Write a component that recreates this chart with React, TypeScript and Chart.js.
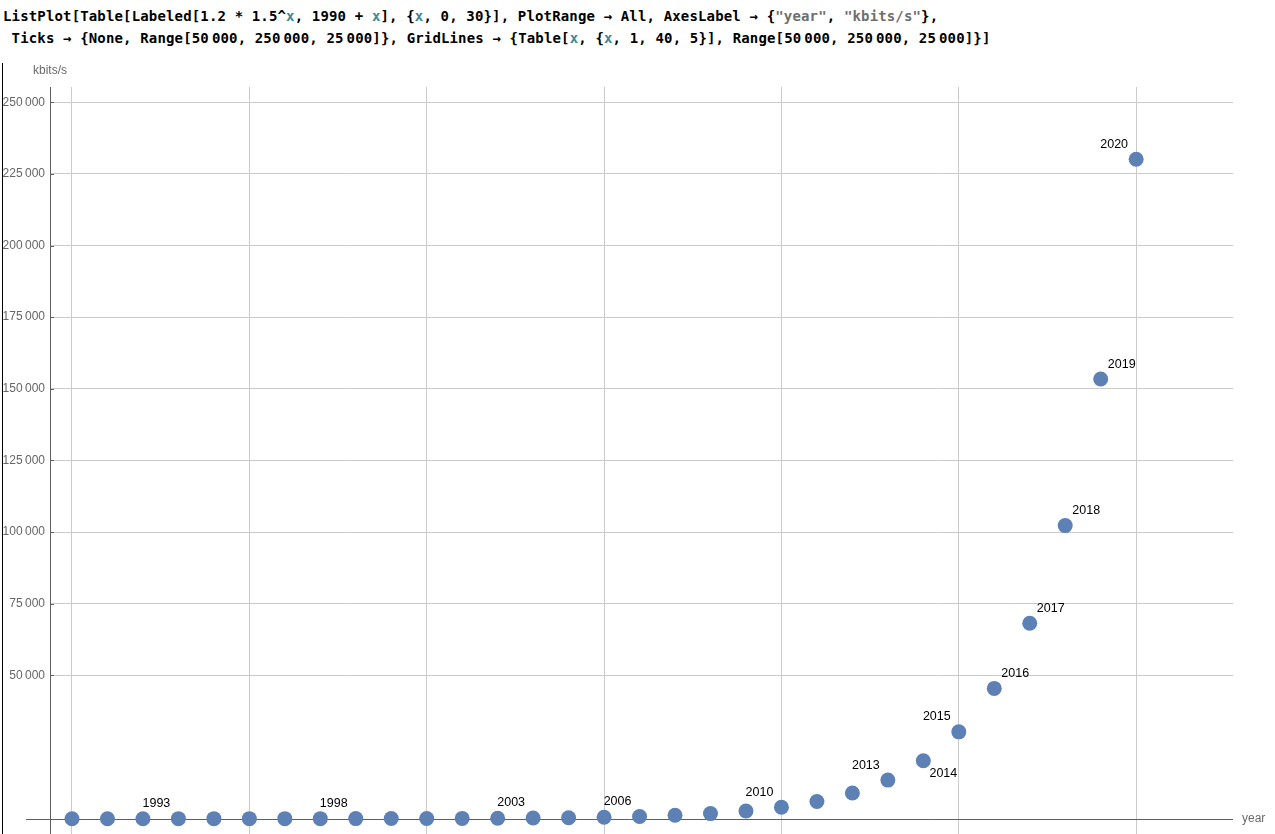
import React, { useEffect, useRef } from "react";
import { Chart, registerables } from "chart.js";

Chart.register(...registerables);

const years: number[] = [
  1990, 1991, 1992, 1993, 1994, 1995, 1996, 1997, 1998, 1999, 2000,
  2001, 2002, 2003, 2004, 2005, 2006, 2007, 2008, 2009, 2010,
  2011, 2012, 2013, 2014, 2015, 2016, 2017, 2018, 2019, 2020,
];
const kbits: number[] = [
  1.2, 1.8, 2.7, 4.05, 6.08, 9.11, 13.67, 20.5, 30.8, 46.1, 69.2,
  103.8, 155.7, 233.5, 350.3, 525.5, 788.2, 1182.3, 1773.5, 2660.2, 3990.3,
  5985.5, 8978.2, 13467, 20201, 30301, 45452, 68178, 102267, 153401, 230101,
];
const yTicks: number[] = [50000, 75000, 100000, 125000, 150000, 175000, 200000, 225000, 250000];
const xGrid: number[] = [1, 6, 11, 16, 21, 26, 31, 36];
// which points carry a year label and where it sits
const labelPlacement: Record<number, string> = {
  1993: "ul", 1998: "ul", 2003: "ul", 2006: "ul", 2010: "ul", 2013: "ul",
  2014: "lr", 2015: "ul", 2016: "ur", 2017: "ur", 2018: "ur", 2019: "ur", 2020: "ul",
};

const AXIS = "#5f5f5f";
const GRID = "#cbcbcb";
const DOT = "#5e81b5";
const FONT = "'Liberation Sans', Arial, sans-serif";

const fmt = (v: number) => {
  const s = String(Math.round(v));
  return s.slice(0, s.length - 3) + "\u2009" + s.slice(s.length - 3);
};

const X = ({ c }: { c: string }) => <span style={{ color: "#3e8796" }}>{c}</span>;
const S = ({ c }: { c: string }) => <span style={{ color: "#6e6e6e" }}>{c}</span>;
const T = () => <span style={{ display: "inline-block", width: 3 }}>{"\u2009"}</span>;

export default function App() {
  const ref = useRef<HTMLCanvasElement | null>(null);

  useEffect(() => {
    const canvas = ref.current;
    if (!canvas) return;

    const overlay = {
      id: "overlay",
      beforeDatasetsDraw(chart: any) {
        const ctx = chart.ctx;
        const ys = chart.scales.y;
        const area = chart.chartArea;
        const y0 = Math.round(ys.getPixelForValue(0)) + 0.5;
        ctx.save();
        ctx.strokeStyle = AXIS;
        ctx.lineWidth = 1;
        ctx.beginPath();
        ctx.moveTo(26, y0);
        ctx.lineTo(area.right, y0);
        ctx.stroke();
        // inward tick marks
        for (const v of yTicks) {
          const py = Math.round(ys.getPixelForValue(v)) + 0.5;
          ctx.beginPath();
          ctx.moveTo(area.left, py);
          ctx.lineTo(area.left + 4, py);
          ctx.stroke();
        }
        ctx.restore();
      },
      afterDatasetsDraw(chart: any) {
        const ctx = chart.ctx;
        const meta = chart.getDatasetMeta(0);
        ctx.save();
        ctx.fillStyle = "#000";
        ctx.font = `12.5px ${FONT}`;
        ctx.textAlign = "center";
        ctx.textBaseline = "middle";
        meta.data.forEach((pt: any, i: number) => {
          const pl = labelPlacement[years[i]];
          if (!pl) return;
          let dx = -22, dy = -15;
          if (pl === "ur") { dx = 21; dy = -15; }
          if (pl === "lr") { dx = 20; dy = 13; }
          ctx.fillText(String(years[i]), pt.x + dx, pt.y + dy);
        });
        // axis labels
        ctx.fillStyle = "#6a6a6a";
        ctx.font = `12px ${FONT}`;
        ctx.fillText("kbits/s", chart.chartArea.left, 71);
        ctx.textAlign = "left";
        ctx.fillText("year", chart.chartArea.right + 9, chart.scales.y.getPixelForValue(0));
        ctx.restore();
      },
    };

    const chart = new Chart(canvas, {
      type: "scatter",
      data: {
        datasets: [
          {
            data: kbits.map((v, i) => ({ x: i + 1, y: v })),
            backgroundColor: DOT,
            borderColor: DOT,
            borderWidth: 0,
            pointRadius: 7.5,
            pointHoverRadius: 7.5,
          },
        ],
      },
      options: {
        animation: false,
        responsive: false,
        maintainAspectRatio: false,
        events: [],
        layout: { padding: { top: 87, right: 42, bottom: 0, left: 0 } },
        plugins: { legend: { display: false }, tooltip: { enabled: false } },
        scales: {
          x: {
            type: "linear",
            min: 0.38,
            max: 33.73,
            position: "bottom",
            ticks: { display: false },
            grid: { color: GRID, drawTicks: false, lineWidth: 1 },
            border: { display: false },
            afterBuildTicks: (s: any) => {
              s.ticks = xGrid.filter((v) => v >= s.min && v <= s.max).map((v) => ({ value: v }));
            },
            afterFit: (s: any) => {
              s.height = 0;
              s.paddingLeft = 0; s.paddingRight = 0;
            },
          },
          y: {
            type: "linear",
            min: -5517,
            max: 255307,
            position: "left",
            ticks: {
              color: "#666",
              font: { family: FONT, size: 12 },
              padding: 5,
              callback: (v: any) => fmt(Number(v)),
            },
            grid: { color: GRID, drawTicks: false, lineWidth: 1 },
            border: { display: true, color: AXIS, width: 1 },
            afterBuildTicks: (s: any) => {
              s.ticks = yTicks.map((v) => ({ value: v }));
            },
            afterFit: (s: any) => {
              s.width = 50;
              s.paddingTop = 0; s.paddingBottom = 0;
            },
          },
        },
      },
      plugins: [overlay],
    } as any);

    return () => chart.destroy();
  }, []);

  const code: React.CSSProperties = {
    fontFamily: "'DejaVu Sans Mono', monospace",
    fontWeight: "bold",
    fontSize: 14,
    lineHeight: "22px",
    letterSpacing: "0.15px",
    whiteSpace: "pre",
    color: "#000",
  };

  return (
    <div style={{ position: "absolute", left: 0, top: 0, width: 1275, height: 834, background: "#fff", overflow: "hidden" }}>
      <div style={{ position: "absolute", left: 3, top: 5, ...code }}>
        <div>
          ListPlot[Table[Labeled[1.2 * 1.5^<X c="x" />, 1990 + <X c="x" />], {"{"}<X c="x" />, 0, 30{"}"}], PlotRange → All, AxesLabel → {"{"}<S c={'"year"'} />, <S c={'"kbits/s"'} />{"}"},
        </div>
        <div>
          {" Ticks → {None, Range[50"}<T />{"000, 250"}<T />{"000, 25"}<T />{"000]}, GridLines → {Table["}<X c="x" />, {"{"}<X c="x" />{", 1, 40, 5}], Range[50"}<T />{"000, 250"}<T />{"000, 25"}<T />{"000]}]"}
        </div>
      </div>
      <div style={{ position: "absolute", left: 2, top: 63, width: 1, height: 771, background: "#000" }} />
      <canvas ref={ref} width={1275} height={842} style={{ position: "absolute", left: 0, top: 0, width: 1275, height: 842 }} />
    </div>
  );
}
